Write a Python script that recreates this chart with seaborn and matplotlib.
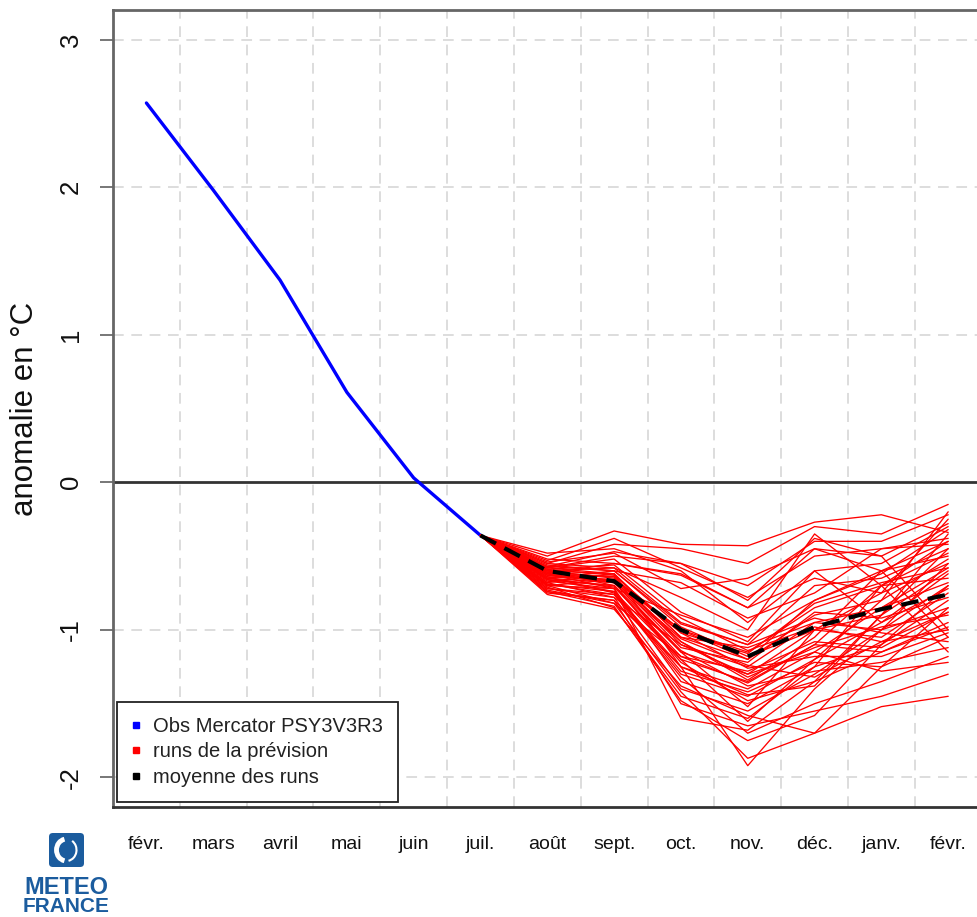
import numpy as np
import pandas as pd
import matplotlib
matplotlib.use("Agg")
import matplotlib.pyplot as plt
import seaborn as sns
from matplotlib.lines import Line2D
from matplotlib.patches import FancyBboxPatch, Arc

# ------------------------------------------------------------------------
# Data
# ------------------------------------------------------------------------
months = ["févr.", "mars", "avril", "mai", "juin", "juil.", "août",
          "sept.", "oct.", "nov.", "déc.", "janv.", "févr."]

# observed anomaly, févr. -> juil.
obs_values = [2.57, 1.98, 1.37, 0.61, 0.03, -0.36]

# forecast runs, août -> févr. (all runs start from the last observation)
runs = [
    [-0.50, -0.33, -0.42, -0.43, -0.27, -0.22, -0.34],
    [-0.55, -0.42, -0.45, -0.55, -0.30, -0.35, -0.15],
    [-0.58, -0.50, -0.55, -0.70, -0.40, -0.40, -0.22],
    [-0.62, -0.55, -0.62, -0.85, -0.45, -0.50, -0.28],
    [-0.48, -0.45, -0.60, -0.95, -0.60, -0.55, -0.30],
    [-0.65, -0.60, -0.68, -0.92, -0.75, -0.45, -0.38],
    [-0.70, -0.72, -0.90, -1.05, -0.80, -0.60, -0.40],
    [-0.55, -0.58, -0.95, -1.10, -0.70, -0.65, -0.45],
    [-0.60, -0.65, -1.00, -1.15, -0.85, -0.70, -0.48],
    [-0.68, -0.62, -1.05, -1.20, -0.90, -0.80, -0.52],
    [-0.52, -0.55, -0.63, -0.85, -0.65, -0.75, -0.55],
    [-0.72, -0.78, -1.10, -1.25, -0.95, -0.85, -0.58],
    [-0.63, -0.68, -1.15, -1.30, -1.00, -0.90, -0.60],
    [-0.58, -0.52, -0.88, -1.08, -0.60, -0.95, -0.62],
    [-0.66, -0.70, -1.20, -1.35, -1.10, -0.70, -0.65],
    [-0.75, -0.80, -1.25, -1.40, -1.15, -0.85, -0.68],
    [-0.60, -0.62, -1.05, -1.12, -0.95, -1.00, -0.70],
    [-0.64, -0.75, -1.30, -1.45, -1.20, -0.95, -0.72],
    [-0.57, -0.60, -0.98, -1.18, -1.00, -1.05, -0.75],
    [-0.70, -0.66, -1.12, -1.22, -0.88, -0.92, -0.78],
    [-0.62, -0.72, -1.35, -1.50, -1.25, -1.10, -0.80],
    [-0.54, -0.48, -0.72, -0.65, -0.45, -0.60, -1.05],
    [-0.68, -0.78, -1.40, -1.55, -1.30, -1.00, -0.85],
    [-0.73, -0.82, -1.18, -1.28, -1.08, -1.12, -0.88],
    [-0.61, -0.64, -1.08, -1.32, -1.12, -0.98, -0.90],
    [-0.66, -0.70, -1.22, -1.48, -1.35, -1.15, -0.95],
    [-0.59, -0.56, -0.92, -1.14, -0.98, -1.08, -1.00],
    [-0.71, -0.85, -1.45, -1.60, -1.25, -0.70, -0.40],
    [-0.63, -0.66, -1.02, -1.26, -1.18, -1.18, -1.02],
    [-0.69, -0.74, -1.28, -1.42, -1.22, -1.25, -1.05],
    [-0.56, -0.60, -0.96, -1.10, -0.92, -1.02, -1.08],
    [-0.74, -0.80, -1.50, -1.65, -1.55, -1.45, -1.30],
    [-0.65, -0.68, -1.14, -1.38, -1.28, -1.22, -1.12],
    [-0.60, -0.58, -0.78, -1.00, -0.35, -0.70, -1.15],
    [-0.72, -0.76, -1.32, -1.70, -1.50, -1.35, -1.18],
    [-0.67, -0.72, -1.60, -1.68, -1.35, -0.90, -0.45],
    [-0.62, -0.64, -1.10, -1.30, -1.15, -1.28, -1.22],
    [-0.70, -0.82, -1.42, -1.87, -1.70, -1.25, -0.85],
    [-0.58, -0.62, -1.25, -1.92, -1.40, -1.00, -0.55],
    [-0.76, -0.86, -1.38, -1.58, -1.70, -1.52, -1.45],
    [-0.53, -0.38, -0.58, -0.78, -0.50, -0.45, -0.42],
    [-0.64, -0.66, -1.00, -1.20, -0.80, -0.62, -0.32],
    [-0.60, -0.70, -1.15, -1.52, -1.00, -0.75, -0.25],
    [-0.66, -0.74, -1.20, -1.62, -1.20, -0.80, -0.20],
    [-0.57, -0.47, -0.55, -0.80, -0.38, -0.50, -1.00],
    [-0.69, -0.76, -1.25, -1.44, -1.38, -0.90, -0.35],
    [-0.62, -0.68, -1.08, -1.34, -1.05, -0.60, -0.50],
    [-0.74, -0.84, -1.48, -1.75, -1.58, -1.10, -0.70],
    [-0.59, -0.63, -1.02, -1.16, -0.82, -0.68, -0.58],
    [-0.65, -0.71, -1.18, -1.36, -1.10, -1.15, -0.98],
    [-0.61, -0.67, -1.06, -1.24, -1.32, -1.08, -0.88],
]

# ensemble mean, juil. -> févr.
mean_values = [-0.36, -0.60, -0.67, -1.00, -1.18, -0.98, -0.86, -0.76]

legend_labels = ["Obs Mercator PSY3V3R3", "runs de la prévision", "moyenne des runs"]

# ------------------------------------------------------------------------
# Build tidy frames
# ------------------------------------------------------------------------
start = len(obs_values) - 1  # index of juil.
obs_df = pd.DataFrame({"idx": np.arange(len(obs_values)), "val": obs_values})

rows = []
for r, vals in enumerate(runs):
    full = [obs_values[-1]] + vals
    for k, v in enumerate(full):
        rows.append({"run": r, "idx": start + k, "val": v})
runs_df = pd.DataFrame(rows)

mean_df = pd.DataFrame({"idx": start + np.arange(len(mean_values)), "val": mean_values})

# ------------------------------------------------------------------------
# Plot
# ------------------------------------------------------------------------
sns.set_theme(style="white")
plt.rcParams["font.family"] = ["Liberation Sans", "DejaVu Sans"]

fig = plt.figure(figsize=(9.78, 9.17), dpi=100)
ax = fig.add_axes([113 / 978, 1 - 807 / 917, 868.6 / 978, 797 / 917])

# grid
for y in [-2, -1, 1, 2, 3]:
    ax.axhline(y, color="#d3d3d3", lw=1.1, ls=(0, (7, 5)), zorder=0)
for x in np.arange(0.5, 12.6, 1.0):
    ax.axvline(x, color="#d3d3d3", lw=1.1, ls=(0, (7, 5)), zorder=0)
ax.axhline(0, color="#333333", lw=2.0, zorder=1)

sns.lineplot(data=obs_df, x="idx", y="val", color="#0000ff", lw=2.4, ax=ax, zorder=3)
sns.lineplot(data=runs_df, x="idx", y="val", units="run", estimator=None,
             color="#ff0000", lw=0.95, ax=ax, zorder=4)
sns.lineplot(data=mean_df, x="idx", y="val", color="black", lw=3.0, ax=ax, zorder=5)
ax.lines[-1].set_dashes([4.2, 2.3])

ax.set_xlim(-0.5, 12.5)
ax.set_ylim(-2.2, 3.2)
ax.set_xticks(np.arange(len(months)))
ax.set_xticklabels(months)
ax.set_yticks([-2, -1, 0, 1, 2, 3])
ax.set_yticklabels(["-2", "-1", "0", "1", "2", "3"])
ax.set_xlabel("")
ax.set_ylabel("anomalie en °C", fontsize=22.5, color="#111111")
ax.yaxis.set_label_coords(-0.101, 0.5)
ax.yaxis.label.set_verticalalignment("center")

ax.tick_params(axis="x", length=0, pad=21, labelsize=14, labelcolor="#111111")
ax.tick_params(axis="y", length=9.5, width=1.4, color="#777777", pad=12,
               labelsize=18.5, labelcolor="#111111", labelrotation=90, left=True)
for lab in ax.get_yticklabels():
    lab.set_verticalalignment("center")

for side in ["left", "right", "top", "bottom"]:
    ax.spines[side].set_color("#666666")
    ax.spines[side].set_linewidth(2.0)
ax.spines["bottom"].set_color("#333333")

handles = [Line2D([], [], marker="s", ls="none", color=c, markersize=5)
           for c in ["#0000ff", "#ff0000", "black"]]
leg = ax.legend(handles, legend_labels, loc="lower left",
                bbox_to_anchor=(117 / 978, 1 - 802 / 917),
                bbox_transform=fig.transFigure, borderaxespad=0,
                fontsize=14.5, frameon=True, fancybox=False, framealpha=1,
                edgecolor="#222222", handlelength=0.4, handletextpad=0.65,
                labelspacing=0.33, borderpad=0.75)
leg.get_frame().set_linewidth(1.3)
for t in leg.get_texts():
    t.set_color("#222222")

# METEO FRANCE logo
blue = "#1b5c9e"
fig.patches.append(FancyBboxPatch((49 / 978, 1 - 867 / 917), 35 / 978, 34 / 917,
                                  boxstyle="round,pad=0,rounding_size=0.004",
                                  transform=fig.transFigure, facecolor=blue,
                                  edgecolor="none"))
fig.patches.append(Arc((66.5 / 978, 1 - 850 / 917), 20 / 978, 22 / 917,
                       theta1=100, theta2=260, transform=fig.transFigure,
                       color="white", lw=3.5))
fig.patches.append(Arc((66.5 / 978, 1 - 850 / 917), 20 / 978, 22 / 917,
                       theta1=-80, theta2=60, transform=fig.transFigure,
                       color="white", lw=1.5))
fig.text(66 / 978, 1 - 887 / 917, "METEO", color=blue, fontsize=17,
         fontweight="heavy", ha="center", va="center")
fig.text(66 / 978, 1 - 907 / 917, "FRANCE", color=blue, fontsize=15,
         fontweight="heavy", ha="center", va="center")

fig.savefig("out.png", dpi=100)
